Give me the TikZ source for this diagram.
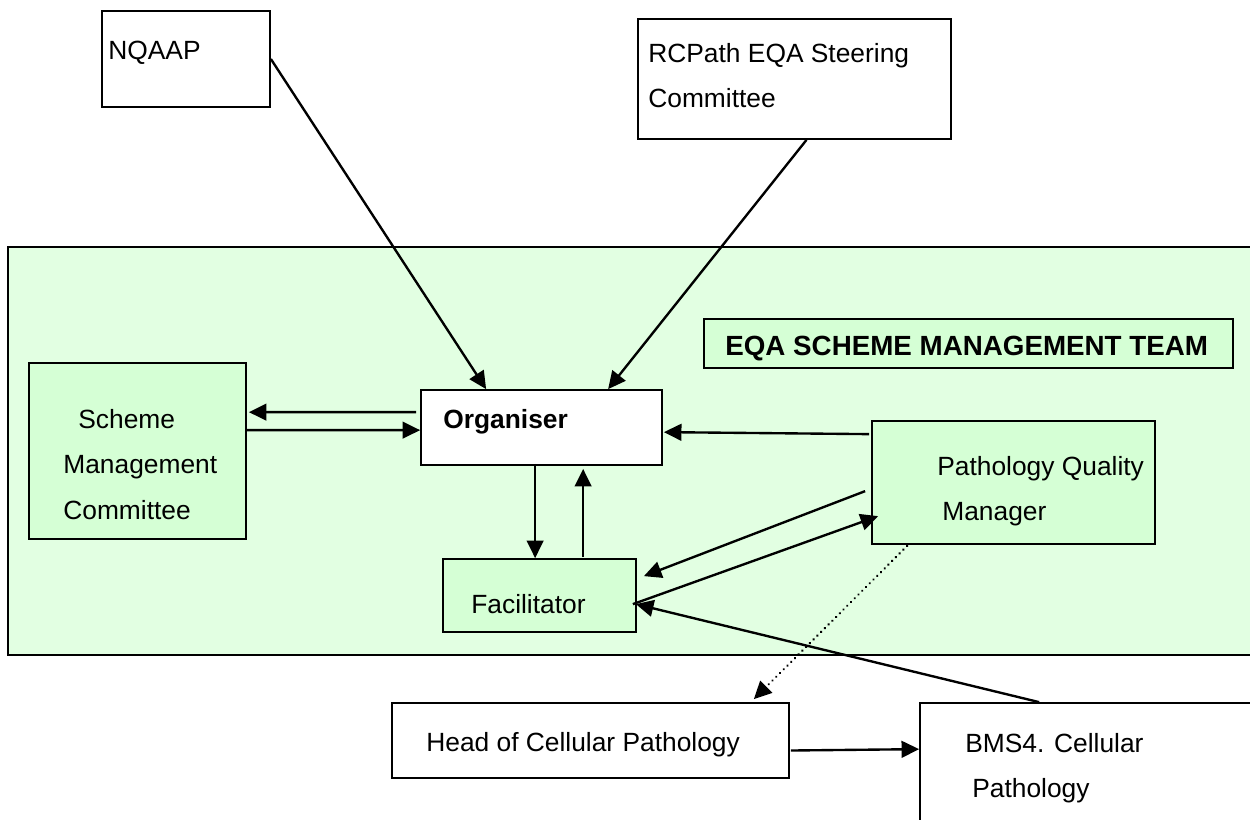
\documentclass[tikz,border=0pt]{standalone}
\usepackage{fontspec}
\setmainfont{Liberation Sans}
\usetikzlibrary{arrows.meta,positioning,calc,fit}

\definecolor{teamfill}{RGB}{226,255,226}
\definecolor{unitfill}{RGB}{213,255,213}

\tikzset{
  box/.style={draw, line width=1pt, inner sep=0pt},
  lbl/.style={anchor=north west, inner sep=0pt, align=left, font=\fontsize{15}{25.8}\selectfont},
  link/.style={line width=1.35pt, -{Triangle[length=10pt,width=9.5pt]}},
}

\begin{document}
\begin{tikzpicture}[x=0.02cm, y=-0.02cm]
    \useasboundingbox (0,0) rectangle (1250,819);
    \clip (0,0) rectangle (1250,819);

    % Management team area
    \node[box, fill=teamfill, fit={(8,247) (1300,655)}] (team) {};
    \node[box, fill=unitfill, fit={(704,319) (1233,368)}] (title) {};
    \node[lbl, font=\fontsize{15.8}{20}\selectfont] (title-txt) at (725,336) {\textbf{EQA SCHEME MANAGEMENT TEAM}};

    % Outside bodies
    \node[box, fill=white, fit={(102,11) (270,107)}] (nqaap) {};
    \node[lbl] (nqaap-txt) at (108,41) {NQAAP};
    \node[box, fill=white, fit={(638,19) (951,139)}] (rcpath) {};
    \node[lbl] (rcpath-txt) at (648,43) {RCPath EQA Steering\\Committee};

    % Team members
    \node[box, fill=unitfill, fit={(29,363) (246,539)}] (smc) {};
    \node[lbl] (smc-txt) at (63,409) {\hspace*{0.3cm}Scheme\\Management\\Committee};
    \node[box, fill=white, fit={(421,390) (662,465)}] (org) {};
    \node[lbl] (org-txt) at (443,409) {\textbf{Organiser}};
    \node[box, fill=unitfill, fit={(443,559) (636,632)}] (fac) {};
    \node[lbl] (fac-txt) at (471,594) {Facilitator};
    \node[box, fill=unitfill, fit={(872,421) (1155,544)}] (pqm) {};
    \node[lbl] (pqm-txt) at (937,456) {Pathology Quality\\\hspace*{0.1cm}Manager};

    % Department
    \node[box, fill=white, fit={(392,703) (789,778)}] (head) {};
    \node[lbl] (head-txt) at (426,732) {Head of Cellular Pathology};
    \node[box, fill=white, fit={(920,703) (1300,860)}] (bms) {};
    \node[lbl] (bms-txt) at (965,733) {BMS4. Cellular\\\hspace*{0.14cm}Pathology};

    % Reporting lines to the organiser
    \draw[link] (nqaap.east) -- ($(org.north west)+(66,0)$);
    \draw[link] ($(rcpath.south)+(12,0)$) -- ($(org.north west)+(188,0)$);

    % Organiser and committee
    \draw[link] ($(org.north west)+(-4,23)$) -- ($(smc.north east)+(2,50)$);
    \draw[link] ($(smc.north east)+(0,68)$) -- ($(org.north west)+(0,41)$);

    % Organiser and facilitator
    \draw[link] ($(org.south west)+(115,-2)$) -- ($(fac.north west)+(93,0)$);
    \draw[link] ($(fac.north west)+(141,-1)$) -- ($(org.south west)+(163,3)$);

    % Quality manager
    \draw[link] ($(pqm.north west)+(-2,14)$) -- ($(org.north east)+(1,43)$);
    \draw[link] ($(pqm.north west)+(-6,71)$) -- ($(fac.north east)+(7,18)$);
    \draw[link] ($(fac.north east)+(-4,46)$) -- ($(pqm.north west)+(7,96)$);
    \draw[link, line width=1.5pt, dash pattern=on 0.01pt off 3pt, line cap=round] ($(pqm.south west)+(36,1)$) -- ($(head.north east)+(-36,-3)$);

    % Department links
    \draw[link] ($(bms.north west)+(120,0)$) -- ($(fac.north east)+(-1,46)$);
    \draw[link] ($(head.east)+(1,10)$) -- ($(bms.north west)+(0,47)$);
\end{tikzpicture}
\end{document}
